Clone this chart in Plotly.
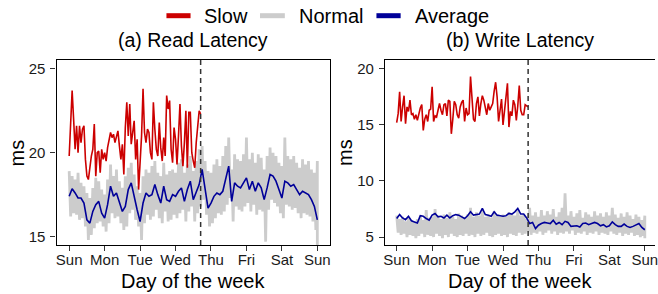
import plotly.graph_objects as go

# ---------------- data ----------------
day_labels = ["Sun", "Mon", "Tue", "Wed", "Thu", "Fri", "Sat", "Sun"]
day_hours = [0, 24, 48, 72, 96, 120, 144, 168]
event_hour = 89  # end of the slow period (dashed line)

# (a) Read latency
read_slow = [19.8, 21.5, 23.7, 22.0, 20.2, 21.6, 20.0, 21.6, 20.6, 21.4, 21.6, 19.6,
             18.6, 18.4, 19.3, 19.8, 20.2, 21.7, 18.6, 20.0, 20.1, 18.8, 20.2, 19.6,
             20.0, 19.5, 20.3, 20.8, 21.2, 20.9, 21.1, 20.6, 20.9, 21.3, 20.4, 19.6,
             20.5, 18.7, 21.5, 23.0, 21.0, 22.9, 20.5, 21.4, 21.9, 19.6, 20.8, 17.8,
             19.5, 21.0, 23.8, 21.2, 20.6, 21.4, 21.2, 20.0, 19.6, 23.0, 21.4, 20.2,
             19.8, 21.8, 20.3, 19.5, 20.9, 19.8, 23.4, 22.6, 23.1, 20.2, 19.4, 21.5,
             20.8, 19.3, 21.0, 22.9, 20.4, 19.2, 20.6, 22.5, 19.1, 22.4, 22.4, 20.0,
             19.5, 19.1, 20.6, 21.5, 22.5, 22.3]
read_avg = [17.4, 17.85, 17.6, 17.3, 17.3, 17.0, 16.0, 15.8, 16.5, 16.9, 17.1, 16.4,
            16.1, 16.9, 18.0, 17.4, 17.6, 17.1, 16.5, 16.8, 17.8, 18.2, 17.3, 16.6,
            15.9, 17.0, 17.6, 17.4, 17.5, 18.1, 17.5, 17.0, 18.0, 17.2, 17.1, 17.5,
            17.4, 17.7, 17.9, 17.1, 17.8, 18.3, 17.2, 17.7, 18.1, 19.0, 17.8, 16.7,
            17.0, 17.4, 17.6, 17.5, 17.7, 18.4, 19.2, 17.1, 18.2, 18.0, 17.9, 18.2,
            18.5, 17.8, 18.3, 17.7, 18.2, 17.9, 17.2, 17.9, 18.7, 18.6, 18.3, 17.8,
            17.3, 18.3, 18.2, 18.0, 18.1, 17.8, 17.5, 17.7, 17.6, 17.5, 17.2, 16.8,
            16.0]
read_normal_hi = [18.9, 18.6, 18.4, 18.8, 18.2, 18.0, 17.6, 17.3, 17.9, 18.5, 18.3, 17.8,
                  17.5, 18.4, 19.3, 18.6, 19.0, 18.3, 17.9, 18.6, 19.1, 19.4, 18.7, 18.0,
                  17.6, 18.6, 19.0, 18.8, 19.2, 19.5, 18.8, 18.6, 19.4, 18.7, 18.9, 19.0,
                  18.8, 19.4, 19.6, 18.8, 19.3, 19.8, 18.9, 19.5, 20.2, 20.4, 19.5, 18.9,
                  18.8, 19.3, 19.6, 19.2, 19.8, 20.4, 20.9, 19.0, 19.9, 19.6, 19.5, 19.9,
                  20.9, 19.6, 20.0, 19.4, 19.9, 19.7, 19.0, 19.8, 20.3, 20.0, 19.8, 19.4,
                  19.2, 20.9, 19.8, 19.6, 19.8, 19.4, 19.1, 19.6, 19.3, 19.5, 19.0, 18.8,
                  19.5]
read_normal_lo = [16.2, 16.4, 16.3, 16.0, 16.1, 15.6, 14.8, 15.1, 15.5, 15.8, 15.9, 15.6,
                  15.3, 15.8, 16.4, 16.1, 16.2, 15.8, 15.4, 15.6, 16.4, 16.6, 16.0, 15.6,
                  14.8, 15.8, 16.3, 16.0, 16.2, 16.6, 16.1, 15.8, 16.5, 15.9, 16.0, 16.3,
                  16.1, 16.4, 16.6, 15.9, 16.5, 16.8, 15.9, 16.4, 16.8, 17.2, 16.3, 15.6,
                  15.8, 16.1, 16.4, 16.3, 16.5, 16.9, 17.3, 15.9, 16.8, 16.6, 16.5, 16.8,
                  17.0, 16.5, 16.9, 16.3, 16.6, 16.5, 14.7, 16.6, 17.2, 17.0, 16.8, 16.4,
                  16.1, 16.9, 16.8, 16.6, 16.7, 16.4, 16.1, 16.4, 16.3, 16.2, 15.9, 15.4,
                  14.5]

# (b) Write latency
write_slow = [15.2, 16.0, 17.95, 15.3, 16.6, 17.6, 15.1, 16.6, 16.2, 17.2, 15.9, 16.0,
              15.5, 15.9, 15.4, 16.0, 16.5, 16.8, 14.5, 15.5, 15.9, 15.3, 16.3, 16.4,
              18.4, 15.3, 15.8, 15.7, 16.2, 16.9, 16.3, 15.9, 16.8, 16.9, 15.8, 17.2,
              17.1, 14.2, 15.5, 17.1, 16.8, 15.9, 15.6, 16.6, 17.0, 17.2, 15.3, 16.5,
              15.9, 16.0, 19.3, 16.9, 15.5, 15.3, 16.9, 17.5, 15.8, 16.9, 17.6, 17.2,
              16.6, 15.9, 16.9, 16.3, 16.6, 16.9, 18.0, 18.8, 17.5, 15.3, 16.3, 17.3,
              15.0, 16.4, 17.6, 18.7, 14.8, 16.2, 15.8, 17.2, 16.8, 15.4, 16.7, 18.5,
              16.3, 15.9, 15.9, 16.8, 16.7, 16.6]
write_avg = [6.65, 7.0, 6.7, 6.55, 6.85, 6.45, 6.35, 6.25, 6.9, 6.85, 6.65, 6.5,
             6.95, 7.1, 6.8, 6.85, 6.7, 6.95, 6.7, 6.9, 7.0, 6.95, 6.8, 6.65,
             6.9, 7.25, 6.95, 7.0, 7.05, 7.55, 7.0, 6.95, 6.85, 7.25, 6.95, 6.9,
             6.85, 6.9, 7.1, 7.05, 7.25, 7.55, 7.05, 7.05, 6.7, 6.2, 6.3, 5.75,
             6.05, 6.2, 6.3, 6.25, 6.2, 6.5, 6.15, 6.3, 6.1, 6.4, 6.3, 5.95,
             5.95, 6.0, 5.9, 6.2, 6.25, 6.1, 6.2, 6.3, 6.2, 6.0, 6.1, 5.9,
             6.0, 6.35, 6.1, 5.95, 5.95, 6.15, 5.95, 5.85, 5.95, 6.1, 6.2, 5.85,
             5.65]
write_normal_hi = [6.9, 6.6, 6.8, 6.4, 6.7, 6.5, 6.3, 6.6, 6.9, 6.5, 7.4, 6.7,
                   6.8, 7.5, 6.9, 6.6, 7.0, 6.7, 7.2, 6.8, 6.6, 7.1, 6.9, 6.7,
                   7.0, 7.6, 6.8, 7.2, 6.9, 7.5, 6.8, 7.0, 6.7, 7.3, 6.9, 6.8,
                   7.0, 6.8, 7.2, 7.0, 6.9, 7.4, 6.9, 7.0, 6.6,
                   7.6, 6.9, 7.2, 6.8, 7.4, 6.9, 7.3, 7.0, 7.5, 6.8, 7.2, 7.6,
                   8.9, 6.9, 7.3, 6.8, 7.1, 7.4, 6.7, 7.2, 7.0, 6.8, 7.3, 6.9,
                   7.1, 6.8, 7.2, 6.9, 7.6, 7.0, 6.7, 7.1, 6.8, 7.2, 6.9, 6.6,
                   7.0, 6.8, 6.5, 6.9]
write_normal_lo = [5.4, 5.2, 5.3, 5.0, 5.2, 5.1, 4.9, 5.1, 5.3, 5.0, 5.2, 5.1,
                   5.0, 5.3, 5.1, 4.9, 5.2, 5.0, 5.3, 5.1, 5.0, 5.2, 5.1, 5.3,
                   5.1, 5.2, 5.0, 5.3, 5.1, 5.2, 5.4, 5.1, 5.0, 5.2, 5.3, 5.1,
                   5.2, 5.0, 5.3, 5.2, 5.1, 5.4, 5.2, 5.3, 5.5,
                   5.2, 5.4, 5.3, 5.5, 5.2, 5.4, 5.6, 5.3, 5.5, 5.2, 5.4, 5.3,
                   5.5, 5.3, 5.6, 5.2, 5.4, 5.3, 5.5, 5.2, 5.4, 5.3, 5.5, 5.2,
                   5.4, 5.3, 5.2, 5.5, 5.3, 5.2, 5.4, 5.1, 5.3, 5.2, 5.4, 5.1,
                   5.2, 5.0, 5.1, 4.9]

# ---------------- style ----------------
RED = "#CC0000"
GRAY = "#CCCCCC"
BLUE = "#000099"
FONT = "Liberation Sans, Arial, Helvetica, sans-serif"
W, H = 658, 294


def px_x(p):
    return p / W


def px_y(p):
    return 1 - p / H


def normal_band(hi, lo, step=2):
    xs, ys = [], []
    last = 168
    for k, (a, b) in enumerate(zip(hi, lo)):
        xs.append(k * step)
        ys.append(a)
        xs.append(min(k * step + step // 2, last))
        ys.append(b)
    return xs, ys


fig = go.Figure()

panels = [
    ("x", "y", read_slow, read_avg, read_normal_hi, read_normal_lo),
    ("x2", "y2", write_slow, write_avg, write_normal_hi, write_normal_lo),
]
for xa, ya, slow, avg, hi, lo in panels:
    gx, gy = normal_band(hi, lo)
    fig.add_trace(go.Scatter(x=gx, y=gy, mode="lines", xaxis=xa, yaxis=ya,
                             line=dict(color=GRAY, width=2.8), showlegend=False,
                             hoverinfo="skip"))
    fig.add_trace(go.Scatter(x=[2 * k for k in range(len(avg))], y=avg, mode="lines",
                             xaxis=xa, yaxis=ya, line=dict(color=BLUE, width=1.6),
                             showlegend=False))
    fig.add_trace(go.Scatter(x=list(range(len(slow))), y=slow, mode="lines",
                             xaxis=xa, yaxis=ya, line=dict(color=RED, width=1.6),
                             showlegend=False))
    fig.add_shape(type="line", xref=xa, yref=f"{ya} domain", x0=event_hour, x1=event_hour,
                  y0=0, y1=1, line=dict(color="#333333", width=1.5, dash="5px,4px"))

axis_common = dict(showline=True, linecolor="black", linewidth=1.3,
                   ticks="outside", ticklen=5, tickwidth=1, tickcolor="#333333",
                   showgrid=False, zeroline=False, ticklabeloverflow="allow",
                   tickfont=dict(family=FONT, size=15, color="#1a1a1a"))

y_dom = [px_y(245), px_y(60)]
fig.update_layout(
    width=W, height=H,
    margin=dict(l=0, r=0, t=0, b=0),
    paper_bgcolor="white", plot_bgcolor="white",
    showlegend=False,
    xaxis=dict(domain=[px_x(55), px_x(330.7)], range=[-8.53, 176.7], mirror=True,
               tickvals=day_hours, ticktext=day_labels, ticklabelstandoff=-4,
               **axis_common),
    yaxis=dict(domain=y_dom, range=[14.5, 25.52], tickvals=[15, 20, 25], mirror=True,
               anchor="x", ticklabelstandoff=2, **axis_common),
    xaxis2=dict(domain=[px_x(386), 1.0], range=[-7.86, 174.9], mirror=True,
                tickvals=day_hours, ticktext=day_labels, anchor="y2",
                ticklabelstandoff=-4, **axis_common),
    yaxis2=dict(domain=y_dom, range=[4.29, 20.78], tickvals=[5, 10, 15, 20], mirror=False,
                anchor="x2", ticklabelstandoff=2, **axis_common),
)

# legend (custom)
legend_items = [("Slow", RED, 165.7, 190, 202), ("Normal", GRAY, 260, 285, 297),
                ("Average", BLUE, 377.3, 401.7, 414)]
for name, col, s0, s1, tx in legend_items:
    fig.add_shape(type="line", xref="paper", yref="paper", x0=px_x(s0), x1=px_x(s1),
                  y0=px_y(15.7), y1=px_y(15.7), line=dict(color=col, width=5))
    fig.add_annotation(x=px_x(tx), y=px_y(15.5), xref="paper", yref="paper",
                       text=name, showarrow=False, xanchor="left", yanchor="middle",
                       font=dict(family=FONT, size=20, color="black"))

texts = [
    ("(a) Read Latency", 192.5, 40, 19.5, 0),
    ("(b) Write Latency", 521.7, 40, 19.5, 0),
    ("Day of the week", 192.5, 281, 20, 0),
    ("Day of the week", 521.7, 281, 20, 0),
    ("ms", 15, 152.5, 20, -90),
    ("ms", 345, 152.5, 20, -90),
]
for t, x, y, s, rot in texts:
    fig.add_annotation(x=px_x(x), y=px_y(y), xref="paper", yref="paper", text=t,
                       showarrow=False, xanchor="center", yanchor="middle",
                       textangle=rot, font=dict(family=FONT, size=s, color="black"))

fig.write_html("out.html", config={"displayModeBar": False},
               post_script="document.body.style.margin='0';document.body.style.overflow='hidden';")
